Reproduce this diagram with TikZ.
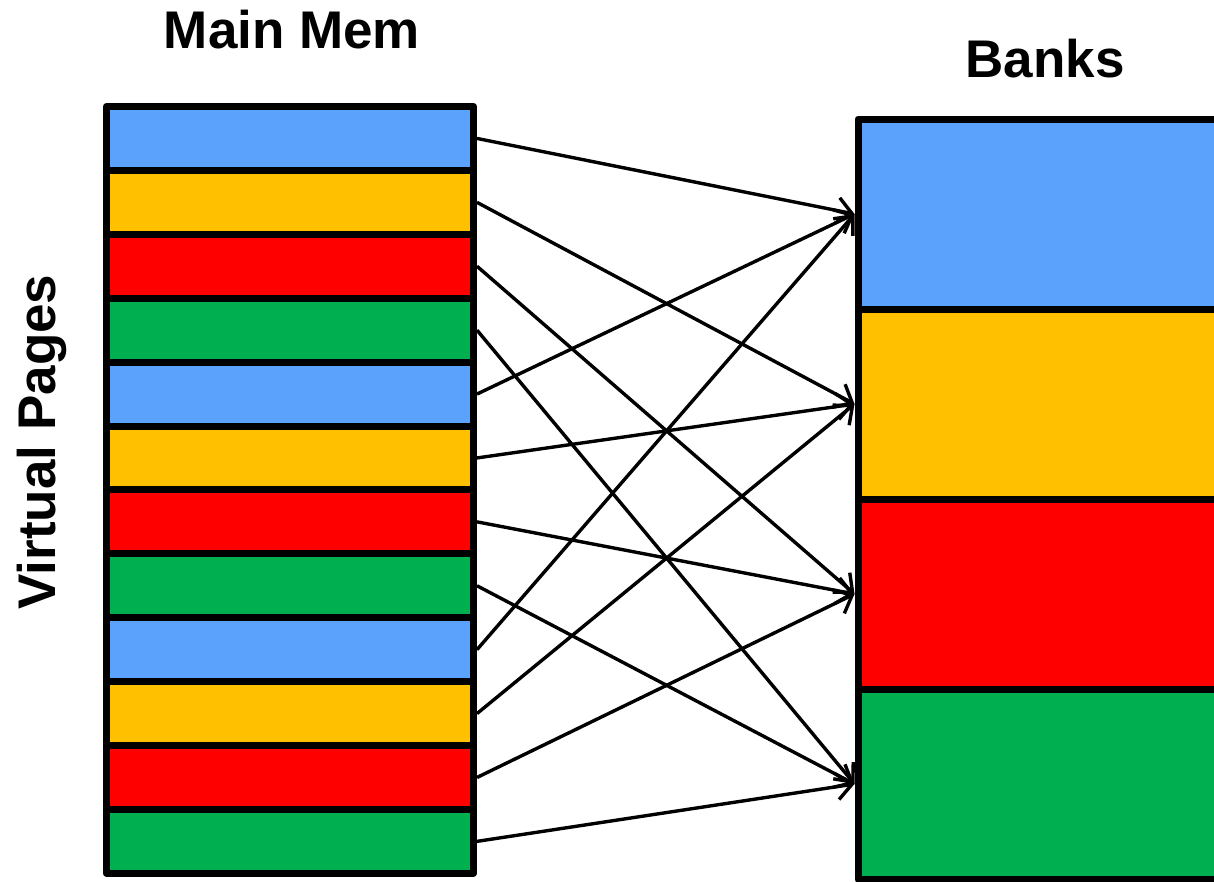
\documentclass[tikz,border=0pt]{standalone}
\usepackage{fontspec}
\setmainfont{Liberation Sans}
\usetikzlibrary{arrows.meta}

\definecolor{col0}{RGB}{91,162,252}
\definecolor{col1}{RGB}{255,192,0}
\definecolor{col2}{RGB}{255,0,0}
\definecolor{col3}{RGB}{0,176,80}

\tikzset{
  page/.style={draw, line width=7pt, line join=round, inner sep=0pt, minimum width=367pt, minimum height=63.9pt},
  bank/.style={draw, line width=7pt, line join=round, inner sep=0pt, minimum width=400pt, minimum height=190pt},
  title/.style={font=\fontsize{53}{60}\selectfont\bfseries, anchor=base},
  map/.style={line width=3.4pt, -{Straight Barb[length=15pt,width=26pt]}}
}

\begin{document}
\begin{tikzpicture}[x=1pt,y=-1pt]
  \clip (0,0) rectangle (1214,881);%

  %% titles
  \node[title] (mem) at (292,48) {Main Mem};%
  \node[title] (banks) at (1045,77) {Banks};%
  \node[title, rotate=90] (vp) at (55,442) {Virtual Pages};%

  %% virtual pages, colour repeats every 4
  \foreach \i in {0,...,11} {
    \pgfmathtruncatemacro\k{mod(\i,4)}
    \node[page, fill=col\k] (page\i) at (290,138.45+63.9*\i) {};
  }
  %% banks
  \foreach \j in {0,...,3} \node[bank, fill=col\j] (bank\j) at (1058,214+190*\j) {};%

  %% page i goes to bank i mod 4
  \foreach \i in {0,...,11} {
    \pgfmathtruncatemacro\k{mod(\i,4)}
    \draw[map] (page\i.east) -- (bank\k.west);
  }
\end{tikzpicture}
\end{document}
